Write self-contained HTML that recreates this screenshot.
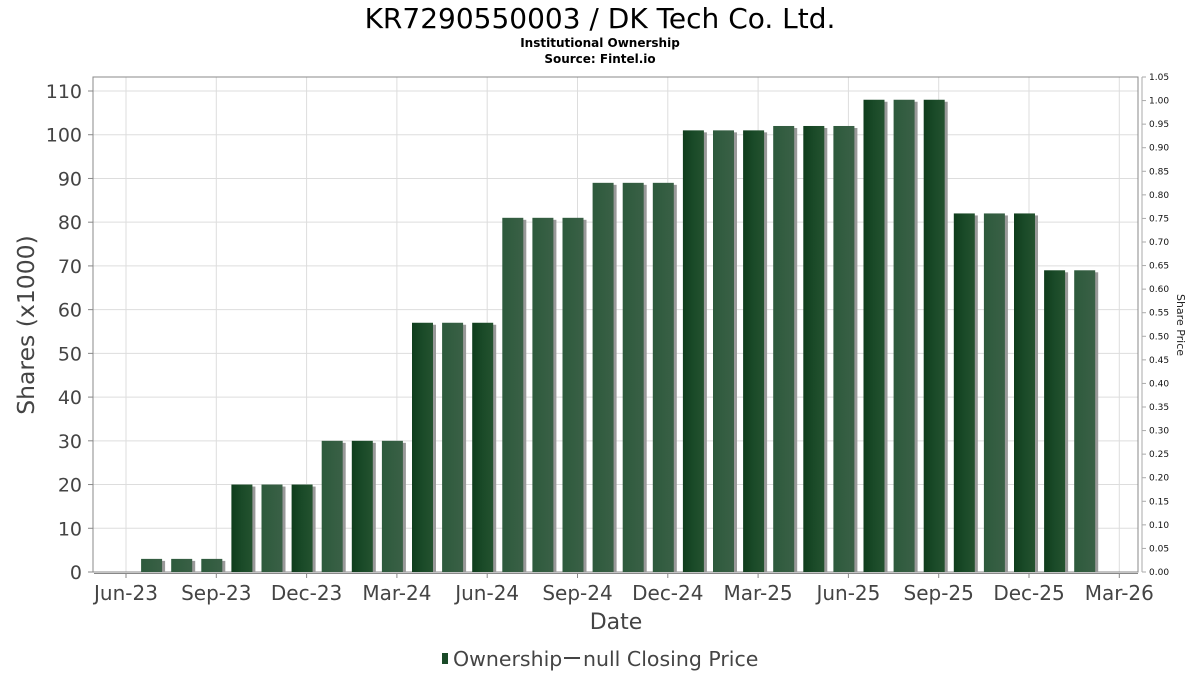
<!DOCTYPE html>
<html><head><meta charset="utf-8"><style>
body{margin:0;background:#fff;font-family:"DejaVu Sans","Liberation Sans",sans-serif;}
svg text{font-family:"DejaVu Sans","Liberation Sans",sans-serif;}
</style></head><body>
<svg id="chart" width="1200" height="675" xmlns="http://www.w3.org/2000/svg">
<defs>
<linearGradient id="gDark" x1="0" x2="1" y1="0" y2="0"><stop offset="0" stop-color="#0f3d1c"/><stop offset="0.5" stop-color="#1a4a28"/><stop offset="1" stop-color="#24522f"/></linearGradient>
<linearGradient id="gLight" x1="0" x2="1" y1="0" y2="0"><stop offset="0" stop-color="#2d5a3c"/><stop offset="1" stop-color="#3a6046"/></linearGradient>
</defs>
<text x="600" y="28" text-anchor="middle" font-size="28" fill="#000">KR7290550003 / DK Tech Co. Ltd.</text>
<text x="600" y="47" text-anchor="middle" font-size="12" font-weight="bold" fill="#000">Institutional Ownership</text>
<text x="600" y="63" text-anchor="middle" font-size="12" font-weight="bold" fill="#000">Source: Fintel.io</text>
<g id="grid"></g>
<rect x="93" y="77" width="1045" height="495" fill="none" stroke="#888" stroke-width="1"/>
<g id="bars"></g>
<g id="axes"></g>
<text transform="translate(34,325) rotate(-90)" text-anchor="middle" font-size="23.5" fill="#444">Shares (x1000)</text>
<text transform="translate(1177,325) rotate(90)" text-anchor="middle" font-size="11" fill="#222">Share Price</text>
<text x="616" y="629" text-anchor="middle" font-size="22" fill="#444">Date</text>
<g>
<rect x="442" y="653" width="6" height="11" fill="#1a4a28"/>
<text x="453" y="666" font-size="20.5" fill="#444">Ownership</text>
<line x1="564" y1="658" x2="580" y2="658" stroke="#444" stroke-width="2"/>
<text x="583" y="666" font-size="20.5" fill="#444">null Closing Price</text>
</g>
</svg>
<script>
const categories=["Jul-23","Aug-23","Sep-23","Oct-23","Nov-23","Dec-23","Jan-24","Feb-24","Mar-24","Apr-24","May-24","Jun-24","Jul-24","Aug-24","Sep-24","Oct-24","Nov-24","Dec-24","Jan-25","Feb-25","Mar-25","Apr-25","May-25","Jun-25","Jul-25","Aug-25","Sep-25","Oct-25","Nov-25","Dec-25","Jan-26","Feb-26"];
const ownership=[3,3,3,20,20,20,30,30,30,57,57,57,81,81,81,89,89,89,101,101,101,102,102,102,108,108,108,82,82,82,69,69];
const yTicks=[0,10,20,30,40,50,60,70,80,90,100,110];
const y2Ticks=[0,0.05,0.1,0.15,0.2,0.25,0.3,0.35,0.4,0.45,0.5,0.55,0.6,0.65,0.7,0.75,0.8,0.85,0.9,0.95,1.0,1.05];
const xTickLabels=["Jun-23","Sep-23","Dec-23","Mar-24","Jun-24","Sep-24","Dec-24","Mar-25","Jun-25","Sep-25","Dec-25","Mar-26"];
const darkBars=[3,5,7,9,11,18,20,22,24,26,27,29,30];
const NS="http://www.w3.org/2000/svg";
const y=v=>572-v*(481/110);
const y2=v=>572-v*(495/1.05);
const xm=i=>126+i*30.1;
function mk(t,a,p){const e=document.createElementNS(NS,t);for(const k in a)e.setAttribute(k,a[k]);p.appendChild(e);return e;}
const grid=document.getElementById('grid'),axes=document.getElementById('axes'),bars=document.getElementById('bars');
yTicks.forEach(v=>{
 const l=mk('line',{x1:93,x2:1138,y1:y(v),y2:y(v),stroke:'#ddd'},grid);
 
 
 const t=mk('text',{x:82,y:y(v)+7,'text-anchor':'end','font-size':19,fill:'#444'},axes);t.textContent=v;
 
 
 mk('line',{x1:88,x2:93,y1:y(v),y2:y(v),stroke:'#888'},axes);
});
xTickLabels.forEach((s,i)=>{
 const x=xm(i*3);
 const l=mk('line',{x1:x,x2:x,y1:77,y2:572,stroke:'#ddd'},grid);
 
 
 mk('line',{x1:x,x2:x,y1:573,y2:578,stroke:'#888'},axes);
 const t=mk('text',{x:x,y:600,'text-anchor':'middle','font-size':20,fill:'#444'},axes);t.textContent=s;
 
 
});
mk('line',{x1:94,x2:1138,y1:573.5,y2:573.5,stroke:'#888'},axes);
mk('line',{x1:1142,x2:1142,y1:77,y2:572,stroke:'#aaa'},axes);
y2Ticks.forEach(v=>{
 mk('line',{x1:1142,x2:1146,y1:y2(v),y2:y2(v),stroke:'#aaa'},axes);
 const t=mk('text',{x:1149,y:y2(v)+3,'font-size':9,fill:'#111'},axes);t.textContent=v.toFixed(2);
 
 
});
ownership.forEach((v,i)=>{
 const cx=xm(i+1)-4.5, w=21, top=y(v), h=572-top;
 const s=mk('rect',{x:cx-w/2+3,y:top+2,width:w,height:h-2,fill:'#999'},bars);
 
 
 const dark=darkBars.includes(i);
 const b=mk('rect',{x:cx-w/2,y:top,width:w,height:h,fill:dark?'url(#gDark)':'url(#gLight)'},bars);
 
 
});
</script>
</body></html>
